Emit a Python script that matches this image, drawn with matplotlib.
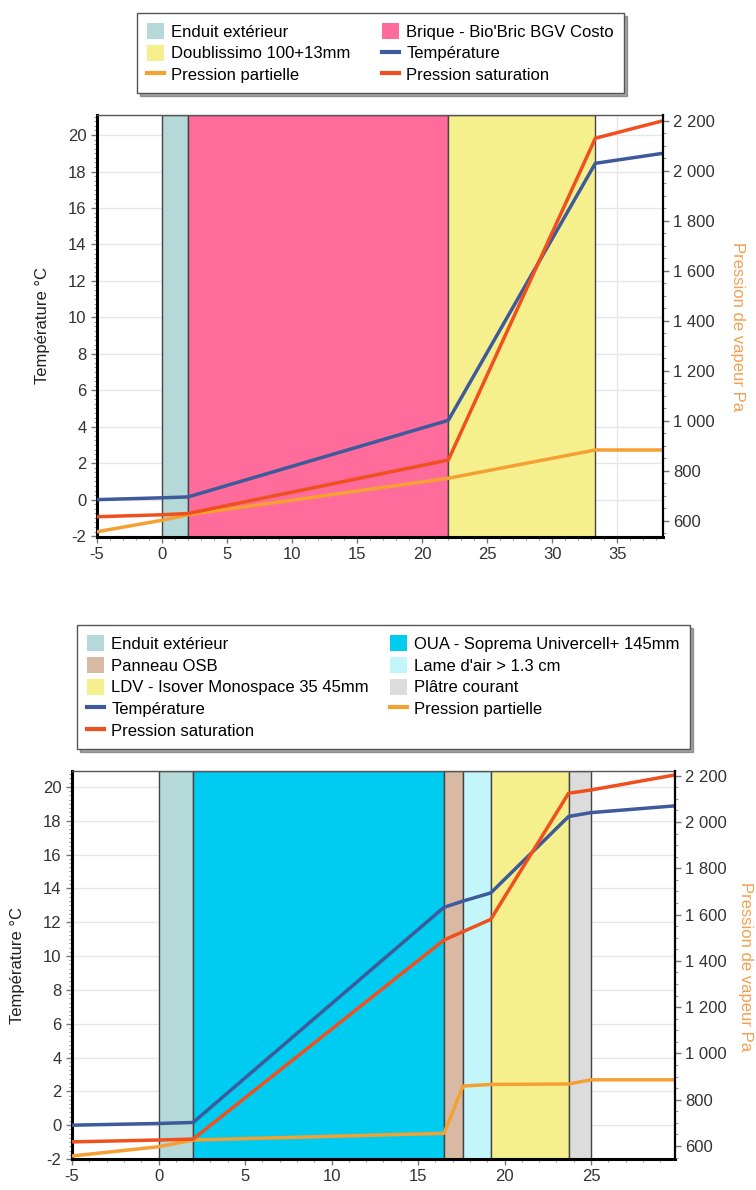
import matplotlib
matplotlib.use('Agg')
import matplotlib.pyplot as plt
from matplotlib.patches import Patch
from matplotlib.lines import Line2D
from matplotlib.ticker import MultipleLocator, FuncFormatter

plt.rcParams['font.family'] = ['Liberation Sans', 'DejaVu Sans']
plt.rcParams['axes.unicode_minus'] = False

# mur brique (graphique du haut)
x_haut = [-5, 0, 2, 22, 33.3, 38.5]
temp_haut = [0.0, 0.1, 0.15, 4.35, 18.45, 19.0]
psat_haut = [617, 625, 630, 844, 2131, 2201]
pvap_haut = [557, 603, 625, 771, 884, 884]
couches_haut = ['Enduit extérieur', "Brique - Bio'Bric BGV Costo", 'Doublissimo 100+13mm']
limites_haut = [0, 2, 22, 33.3]
couleurs_haut = ['#b5d8d8', '#ff6b9a', '#f6ef8e']

# mur ossature (graphique du bas)
x_bas = [-5, 0, 2, 16.5, 17.6, 19.2, 23.7, 25, 29.85]
temp_bas = [0.0, 0.1, 0.16, 12.88, 13.25, 13.73, 18.25, 18.48, 18.88]
psat_bas = [618, 626, 630, 1490, 1526, 1579, 2124, 2138, 2203]
pvap_bas = [557, 597, 626, 655, 859, 866, 868, 886, 886]
couches_bas = ['Enduit extérieur', 'OUA - Soprema Univercell+ 145mm', 'Panneau OSB',
               "Lame d'air > 1.3 cm", 'LDV - Isover Monospace 35 45mm', 'Plâtre courant']
limites_bas = [0, 2, 16.5, 17.6, 19.2, 23.7, 25]
couleurs_bas = ['#b5d8d8', '#00ccf2', '#d8b9a4', '#c3f6fb', '#f6ef8e', '#dcdcdc']

c_temp = '#3d5a9b'
c_psat = '#f0501e'
c_pvap = '#f5a033'
gris = '#333333'


def milliers(v, p):
    return f'{v:,.0f}'.replace(',', ' ')


def tracer(ax, x, temp, psat, pvap, limites, couches, couleurs, xlim, ylim_t, ylim_p):
    ax.set_axisbelow(True)
    ax.grid(True, color='#e6e6e6', lw=1)
    for i in range(len(couches)):
        ax.axvspan(limites[i], limites[i + 1], facecolor=couleurs[i],
                   edgecolor='#444444', lw=1, zorder=1)
    ax.plot(x, temp, color=c_temp, lw=2.5, zorder=3)
    ax.set_xlim(*xlim)
    ax.set_ylim(*ylim_t)
    ax.xaxis.set_major_locator(MultipleLocator(5))
    ax.xaxis.set_minor_locator(MultipleLocator(1))
    ax.yaxis.set_major_locator(MultipleLocator(2))
    ax.yaxis.set_minor_locator(MultipleLocator(0.25))

    ax2 = ax.twinx()
    ax2.plot(x, pvap, color=c_pvap, lw=2.5)
    ax2.plot(x, psat, color=c_psat, lw=2.5)
    ax2.set_ylim(*ylim_p)
    ax2.yaxis.set_major_locator(MultipleLocator(200))
    ax2.yaxis.set_minor_locator(MultipleLocator(50))
    ax2.yaxis.set_major_formatter(FuncFormatter(milliers))

    for a in (ax, ax2):
        a.tick_params(which='major', length=4, width=1, color='#777777',
                      labelsize=12, labelcolor=gris)
        a.tick_params(which='minor', length=2, width=0.8, color='#999999')
    ax.spines['left'].set(lw=2.2, color='black')
    ax.spines['bottom'].set(lw=2.2, color='black')
    ax.spines['top'].set(lw=1, color='#555555')
    ax.spines['right'].set_visible(False)
    for s in ('left', 'bottom', 'top'):
        ax2.spines[s].set_visible(False)
    ax2.spines['right'].set(lw=1.6, color='black')

    labels = couches + ['Température', 'Pression partielle', 'Pression saturation']
    handles = [Patch(facecolor=c, edgecolor='none') for c in couleurs]
    handles += [Line2D([], [], color=c_temp, lw=3),
                Line2D([], [], color=c_pvap, lw=3),
                Line2D([], [], color=c_psat, lw=3)]
    # ordre ligne par ligne -> ordre par colonne pour ncol=2
    return handles[0::2] + handles[1::2], labels[0::2] + labels[1::2]


fig = plt.figure(figsize=(7.56, 11.9), dpi=100)
W, H = 756, 1190
leg_opts = dict(ncol=2, loc='upper left', borderaxespad=0,
                fontsize=12, handlelength=1.0, handleheight=1.1, handletextpad=0.45,
                labelspacing=0.31, borderpad=0.6, fancybox=False,
                edgecolor='#555555', framealpha=1, shadow=True)

ax_h = fig.add_axes([97 / W, 1 - 537 / H, 566 / W, 422 / H])
h, l = tracer(ax_h, x_haut, temp_haut, psat_haut, pvap_haut, limites_haut,
              couches_haut, couleurs_haut, (-5, 38.5), (-2.05, 21.1), (536, 2224))
fig.legend(h, l, bbox_to_anchor=(137 / W, 1 - 13 / H), columnspacing=1.9, **leg_opts)

ax_b = fig.add_axes([72 / W, 1 - 1159 / H, 603 / W, 388 / H])
h, l = tracer(ax_b, x_bas, temp_bas, psat_bas, pvap_bas, limites_bas,
              couches_bas, couleurs_bas, (-5, 29.85), (-2.0, 20.94), (544, 2220))
fig.legend(h, l, bbox_to_anchor=(77 / W, 0.3, 613 / W, 1 - 625 / H - 0.3),
           mode='expand', **leg_opts)

fig.text(43 / W, 1 - 326 / H, 'Température °C', rotation=90, ha='center', va='center',
         fontsize=12, color='#222222')
fig.text(737 / W, 1 - 327 / H, 'Pression de vapeur Pa', rotation=270, ha='center',
         va='center', fontsize=12, color='#f0a050')
fig.text(18 / W, 1 - 965 / H, 'Température °C', rotation=90, ha='center', va='center',
         fontsize=12, color='#222222')
fig.text(745 / W, 1 - 967 / H, 'Pression de vapeur Pa', rotation=270, ha='center',
         va='center', fontsize=12, color='#f0a050')

fig.savefig('out.png', dpi=100)
